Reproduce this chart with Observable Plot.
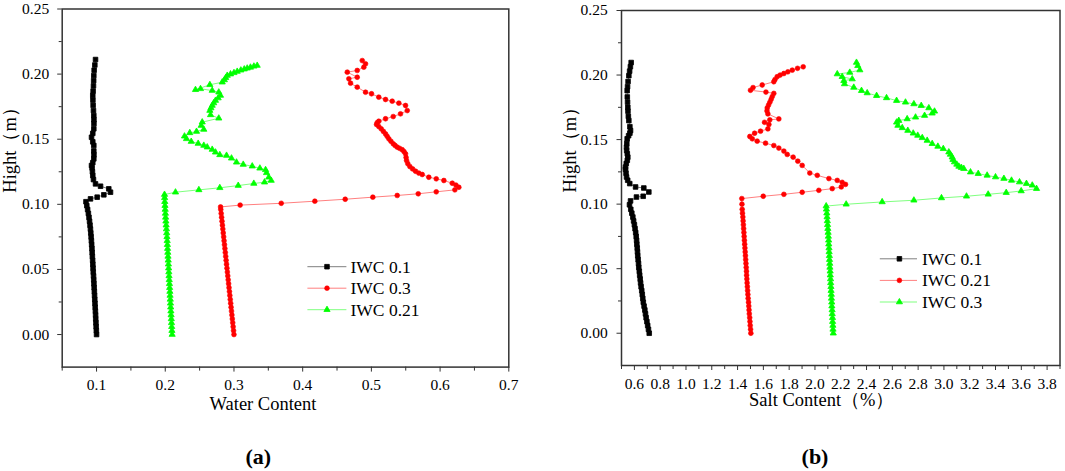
<!DOCTYPE html>
<html><head><meta charset="utf-8">
<script src="https://cdn.jsdelivr.net/npm/d3@7"></script>
<script src="https://cdn.jsdelivr.net/npm/@observablehq/plot@0.6"></script>
<style>
body{margin:0;background:#fff;}
#wrap{position:relative;width:1065px;height:471px;overflow:hidden;background:#fff;font-family:"Liberation Serif","Times New Roman",serif;}
#wrap svg{position:absolute;top:0;}
.cap{position:absolute;font-weight:bold;font-size:22px;transform:translate(-50%,-50%);font-family:"Liberation Serif","Times New Roman",serif;}
</style></head><body><div id="wrap"></div>
<script>
// ---------- DATA ----------
const lowHeights = [0,0.003,0.006,0.009,0.012,0.015,0.018,0.021,0.024,0.027,0.030,0.033,0.036,0.039,0.042,0.045,0.048,0.051,0.054,0.057,0.060,0.063,0.066,0.069,0.072,0.075,0.078,0.081,0.084,0.087,0.090,0.093,0.096];

// panel (a) water content
const aBlackLow = [.1000,.0997,.0994,.0991,.0988,.0986,.0983,.0980,.0977,.0974,.0971,.0968,.0965,.0962,.0959,.0956,.0952,.0949,.0946,.0943,.0939,.0936,.0933,.0929,.0925,.0921,.0916,.0911,.0905,.0898,.0890,.0881,.0870];
const aBlackUp = [[.0858,.0990],[.0846,.1020],[.0912,.1042],[.1009,.1055],[.1106,.1073],[.1203,.1093],[.1178,.1119],[.1058,.1139],[.0985,.1157],[.0955,.1190],[.0945,.1221],[.0940,.1250],[.0935,.1280],[.0927,.1298],[.0945,.1320],[.0960,.1349],[.0962,.1380],[.0960,.1410],[.0960,.1452],[.0945,.1480],[.0927,.1515],[.0945,.1545],[.0960,.1580],[.0962,.1620],[.0962,.1650],[.0960,.1682],[.0955,.1720],[.0950,.1760],[.0947,.1800],[.0945,.1836],[.0950,.1870],[.0955,.1910],[.0958,.1950],[.0960,.1989],[.0965,.2030],[.0975,.2070],[.0985,.2112]];
const aRedLow = [.3000,.2994,.2988,.2982,.2976,.2970,.2964,.2958,.2952,.2946,.2940,.2934,.2928,.2922,.2916,.2910,.2904,.2898,.2892,.2886,.2880,.2874,.2868,.2862,.2856,.2850,.2844,.2838,.2832,.2826,.2820,.2814,.2808];
const aRedUp = [[.2805,.0980],[.3090,.0994],[.3688,.1008],[.4177,.1024],[.4619,.1039],[.5021,.1055],[.5376,.1068],[.5682,.1081],[.5944,.1096],[.6215,.1111],[.6273,.1131],[.6230,.1148],[.6177,.1162],[.6055,.1183],[.5944,.1196],[.5836,.1208],[.5740,.1229],[.5690,.1240],[.5643,.1254],[.5600,.1272],[.5560,.1290],[.5530,.1312],[.5512,.1336],[.5505,.1360],[.5497,.1388],[.5475,.1405],[.5449,.1419],[.5410,.1430],[.5376,.1439],[.5345,.1452],[.5318,.1465],[.5285,.1484],[.5254,.1503],[.5230,.1522],[.5206,.1541],[.5175,.1560],[.5143,.1580],[.5108,.1597],[.5075,.1613],[.5085,.1627],[.5108,.1638],[.5206,.1657],[.5318,.1674],[.5424,.1695],[.5522,.1720],[.5497,.1759],[.5400,.1777],[.5303,.1792],[.5206,.1805],[.5108,.1823],[.5002,.1849],[.4915,.1861],[.4794,.1900],[.4697,.1930],[.4672,.1964],[.4794,.1976],[.4649,.2015],[.4794,.2028],[.4890,.2053],[.4915,.2079],[.4867,.2104]];
const aGreenLow = [.2100,.2097,.2094,.2091,.2088,.2085,.2082,.2079,.2076,.2073,.2070,.2067,.2064,.2061,.2058,.2055,.2052,.2049,.2046,.2043,.2040,.2037,.2034,.2031,.2028,.2025,.2021,.2017,.2013,.2009,.2005,.2002,.1999];
const aGreenUp = [[.1996,.0990],[.1993,.1020],[.1991,.1050],[.1989,.1075],[.2149,.1093],[.2489,.1111],[.2794,.1127],[.3062,.1144],[.3289,.1160],[.3445,.1170],[.3542,.1183],[.3507,.1208],[.3474,.1242],[.3460,.1265],[.3377,.1277],[.3266,.1293],[.3135,.1306],[.3037,.1323],[.2964,.1354],[.2892,.1375],[.2794,.1380],[.2731,.1400],[.2683,.1421],[.2611,.1439],[.2561,.1452],[.2479,.1467],[.2378,.1482],[.2309,.1503],[.2280,.1523],[.2357,.1549],[.2455,.1559],[.2561,.1575],[.2523,.1605],[.2538,.1631],[.2779,.1661],[.2659,.1687],[.2649,.1720],[.2665,.1740],[.2683,.1759],[.2705,.1778],[.2731,.1797],[.2770,.1816],[.2804,.1836],[.2779,.1861],[.2683,.1874],[.2513,.1887],[.2440,.1880],[.2649,.1918],[.2829,.1938],[.2860,.1955],[.2880,.1972],[.2902,.1989],[.2950,.2000],[.3000,.2010],[.3047,.2020],[.3100,.2030],[.3150,.2038],[.3193,.2045],[.3240,.2052],[.3290,.2060],[.3338,.2066]];

// panel (b) salt content
const bBlackLow = [.715,.709,.703,.697,.691,.686,.681,.675,.669,.665,.661,.657,.652,.648,.645,.641,.638,.634,.632,.629,.626,.624,.622,.619,.617,.614,.610,.605,.600,.594,.588,.580,.572];
const bBlackUp = [[.562,.0995],[.570,.1025],[.616,.1055],[.668,.1061],[.712,.1094],[.673,.1125],[.609,.1133],[.564,.1159],[.548,.1185],[.539,.1210],[.535,.1240],[.531,.1270],[.531,.1287],[.537,.1315],[.545,.1340],[.549,.1364],[.545,.1390],[.540,.1415],[.539,.1441],[.541,.1470],[.544,.1506],[.555,.1530],[.565,.1550],[.570,.1570],[.565,.1600],[.557,.1647],[.553,.1680],[.550,.1720],[.549,.1750],[.547,.1790],[.545,.1830],[.544,.1879],[.547,.1910],[.551,.1950],[.557,.1995],[.563,.2030],[.569,.2065],[.575,.2097]];
const bRedLow = [1.503,1.501,1.498,1.496,1.494,1.491,1.489,1.487,1.485,1.482,1.480,1.478,1.476,1.474,1.472,1.470,1.469,1.467,1.465,1.463,1.461,1.459,1.457,1.455,1.453,1.451,1.449,1.447,1.445,1.443,1.441,1.438,1.436];
const bRedUp = [[1.434,.1000],[1.433,.1043],[1.599,.1061],[1.759,.1076],[1.901,.1092],[2.030,.1107],[2.134,.1120],[2.204,.1133],[2.237,.1153],[2.211,.1169],[2.173,.1184],[2.108,.1198],[2.018,.1223],[1.960,.1241],[1.901,.1300],[1.867,.1333],[1.831,.1364],[1.785,.1385],[1.759,.1411],[1.720,.1434],[1.681,.1454],[1.617,.1472],[1.552,.1488],[1.514,.1506],[1.495,.1524],[1.532,.1549],[1.578,.1565],[1.635,.1583],[1.643,.1617],[1.609,.1634],[1.650,.1653],[1.720,.1660],[1.635,.1699],[1.628,.1722],[1.630,.1745],[1.640,.1767],[1.650,.1789],[1.660,.1811],[1.669,.1833],[1.681,.1858],[1.620,.1868],[1.500,.1882],[1.520,.1903],[1.591,.1923],[1.681,.1948],[1.690,.1965],[1.707,.1987],[1.730,.2000],[1.759,.2012],[1.790,.2025],[1.824,.2038],[1.865,.2052],[1.909,.2064]];
const bGreenLow = [2.142,2.140,2.139,2.137,2.136,2.134,2.133,2.131,2.130,2.128,2.127,2.125,2.124,2.122,2.121,2.119,2.118,2.116,2.115,2.113,2.112,2.110,2.109,2.107,2.106,2.104,2.102,2.100,2.098,2.096,2.094,2.092,2.089];
const bGreenUp = [[2.087,.0985],[2.242,.0999],[2.521,.1017],[2.767,.1030],[2.981,.1048],[3.175,.1061],[3.343,.1076],[3.483,.1089],[3.599,.1102],[3.718,.1120],[3.685,.1146],[3.640,.1159],[3.586,.1171],[3.524,.1184],[3.465,.1198],[3.400,.1210],[3.335,.1223],[3.266,.1236],[3.206,.1248],[3.154,.1275],[3.135,.1283],[3.116,.1292],[3.100,.1308],[3.082,.1326],[3.070,.1345],[3.064,.1364],[3.050,.1385],[3.038,.1403],[2.995,.1429],[2.953,.1447],[2.909,.1468],[2.870,.1493],[2.832,.1514],[2.797,.1532],[2.762,.1549],[2.720,.1570],[2.677,.1591],[2.643,.1609],[2.633,.1634],[2.650,.1647],[2.715,.1660],[2.780,.1673],[2.850,.1686],[2.909,.1704],[2.927,.1719],[2.883,.1745],[2.824,.1763],[2.767,.1776],[2.702,.1789],[2.633,.1802],[2.555,.1823],[2.478,.1840],[2.405,.1861],[2.361,.1879],[2.301,.1904],[2.229,.1931],[2.224,.1956],[2.289,.1969],[2.211,.1987],[2.173,.2008],[2.270,.2020],[2.348,.2039],[2.332,.2072],[2.322,.2097]];

// labels / ticks
const yMajor = [0,0.05,0.10,0.15,0.20,0.25];
const yMinor = [0.025,0.075,0.125,0.175,0.225];
const xMajorA = [0.1,0.2,0.3,0.4,0.5,0.6,0.7];
const xMinorA = [0.05,0.15,0.25,0.35,0.45,0.55,0.65];
const xMajorB = [0.6,0.8,1.0,1.2,1.4,1.6,1.8,2.0,2.2,2.4,2.6,2.8,3.0,3.2,3.4,3.6,3.8];
const xMinorB = [0.5,0.7,0.9,1.1,1.3,1.5,1.7,1.9,2.1,2.3,2.5,2.7,2.9,3.1,3.3,3.5,3.7,3.9];
const legendA = ["IWC 0.1","IWC 0.3","IWC 0.21"];
const legendB = ["IWC 0.1","IWC 0.21","IWC 0.3"];
const yTitle = "Hight（m）";
const xTitleA = "Water Content";
const xTitleB = "Salt Content（%）";

// ---------- BUILD ----------
const toSeries = (low, up) => lowHeights.map((h,i)=>({x: low[i], y: h})).concat(up.map(([x,y])=>({x,y})));
const BLACK = "#000000", RED = "#ff0000", GREEN = "#00ff00";
const styleSym = {square:{r:2.6, sw:0.8}, circle:{r:2.4, sw:0.6}, triangle:{r:2.3, sw:0.8}};

function seriesMarks(data, color, symbol){
  return [
    Plot.line(data, {x:"x", y:"y", stroke: color, strokeWidth: 1, strokeOpacity: 0.5}),
    Plot.dot(data, {x:"x", y:"y", symbol, r: styleSym[symbol].r, fill: color, stroke: color, strokeWidth: styleSym[symbol].sw})
  ];
}

function axes(xMajor, xMinor, xFmt, yPad){
  return [
    Plot.axisX(xMinor, {tickSize: 4, tickFormat: () => "", label: null, stroke: "#333"}),
    Plot.axisX(xMajor, {tickSize: 5, tickPadding: 7, tickFormat: d3.format(xFmt), label: null, fontSize: 15.5, stroke: "#333", fill: "black"}),
    Plot.axisY(yMinor, {tickSize: 3, tickFormat: () => "", label: null, stroke: "#333"}),
    Plot.axisY(yMajor, {tickSize: 4.5, tickPadding: yPad, tickFormat: d3.format(".2f"), label: null, fontSize: 15.5, stroke: "#333", fill: "black"}),
    Plot.frame({stroke: "#333", strokeWidth: 1.5})
  ];
}

const common = {
  height: 420,
  style: {fontFamily: '"Liberation Serif","Times New Roman",serif', fontSize: "15px", background: "transparent", color: "black", overflow: "visible"}
};

const plotA = Plot.plot({
  ...common,
  width: 530,
  marginLeft: 61.7, marginRight: 21.7, marginTop: 8.5, marginBottom: 53.4,
  x: {domain: [0.05, 0.7], axis: null},
  y: {domain: [-0.025, 0.25], axis: null},
  marks: [
    ...axes(xMajorA, xMinorA, ".1f", 8.5),
    ...seriesMarks(toSeries(aBlackLow, aBlackUp), BLACK, "square"),
    ...seriesMarks(toSeries(aRedLow, aRedUp), RED, "circle"),
    ...seriesMarks(toSeries(aGreenLow, aGreenUp), GREEN, "triangle"),
    Plot.text([xTitleA], {text: d => d, frameAnchor: "bottom", lineAnchor: "bottom", dy: 42.5, dx: -22.5, fontSize: 18.5, fill: "black"}),
    Plot.text([yTitle], {text: d => d, frameAnchor: "left", rotate: -90, dx: -52.4, dy: 4.6, fontSize: 18.5, fill: "black"})
  ]
});
plotA.style.left = "0px";

const plotB = Plot.plot({
  ...common,
  width: 535,
  marginLeft: 91, marginRight: 5.5, marginTop: 10, marginBottom: 55,
  x: {domain: [0.5, 3.9], axis: null},
  y: {domain: [-0.025, 0.25], axis: null},
  marks: [
    ...axes(xMajorB, xMinorB, ".1f", 9.3),
    ...seriesMarks(toSeries(bBlackLow, bBlackUp), BLACK, "square"),
    ...seriesMarks(toSeries(bRedLow, bRedUp), RED, "circle"),
    ...seriesMarks(toSeries(bGreenLow, bGreenUp), GREEN, "triangle"),
    Plot.text([xTitleB], {text: d => d, frameAnchor: "bottom", lineAnchor: "bottom", dy: 40, dx: -19, fontSize: 18.5, fill: "black"}),
    Plot.text([yTitle], {text: d => d, frameAnchor: "left", rotate: -90, dx: -51.4, dy: 4.4, fontSize: 18.5, fill: "black"})
  ]
});
plotB.style.left = "530px";

const wrap = document.getElementById("wrap");
wrap.appendChild(plotA);
wrap.appendChild(plotB);

// legends overlay
const ov = d3.create("svg").attr("width",1065).attr("height",471).style("left","0px").style("pointer-events","none");
const symMap = {square: d3.symbolSquare, circle: d3.symbolCircle, triangle: d3.symbolTriangle};
function legend(labels, colors, symbols, x1, x2, mx, tx, ys){
  labels.forEach((lab,i)=>{
    const y = ys[i];
    ov.append("line").attr("x1",x1).attr("x2",x2).attr("y1",y).attr("y2",y).attr("stroke",colors[i]).attr("stroke-opacity",0.5).attr("stroke-width",1);
    const s = styleSym[symbols[i]];
    ov.append("path").attr("d", d3.symbol(symMap[symbols[i]], Math.PI*s.r*s.r)()).attr("transform",`translate(${mx},${y})`).attr("fill",colors[i]).attr("stroke",colors[i]).attr("stroke-width",s.sw);
    ov.append("text").attr("x",tx).attr("y",y+6).attr("font-size",17.5).attr("font-family",'"Liberation Serif","Times New Roman",serif').attr("fill","black").text(lab);
  });
}
legend(legendA, [BLACK,RED,GREEN], ["square","circle","triangle"], 307.4, 346.4, 327, 350.5, [266.7,288.2,309.7]);
legend(legendB, [BLACK,RED,GREEN], ["square","circle","triangle"], 879.8, 917, 899.4, 922, [258.8,280.4,302]);
wrap.appendChild(ov.node());

// captions
[["(a)",258.3],["(b)",815]].forEach(([t,x])=>{
  const d = document.createElement("div");
  d.className = "cap"; d.textContent = t;
  d.style.left = x+"px"; d.style.top = "457px";
  wrap.appendChild(d);
});
</script></body></html>
